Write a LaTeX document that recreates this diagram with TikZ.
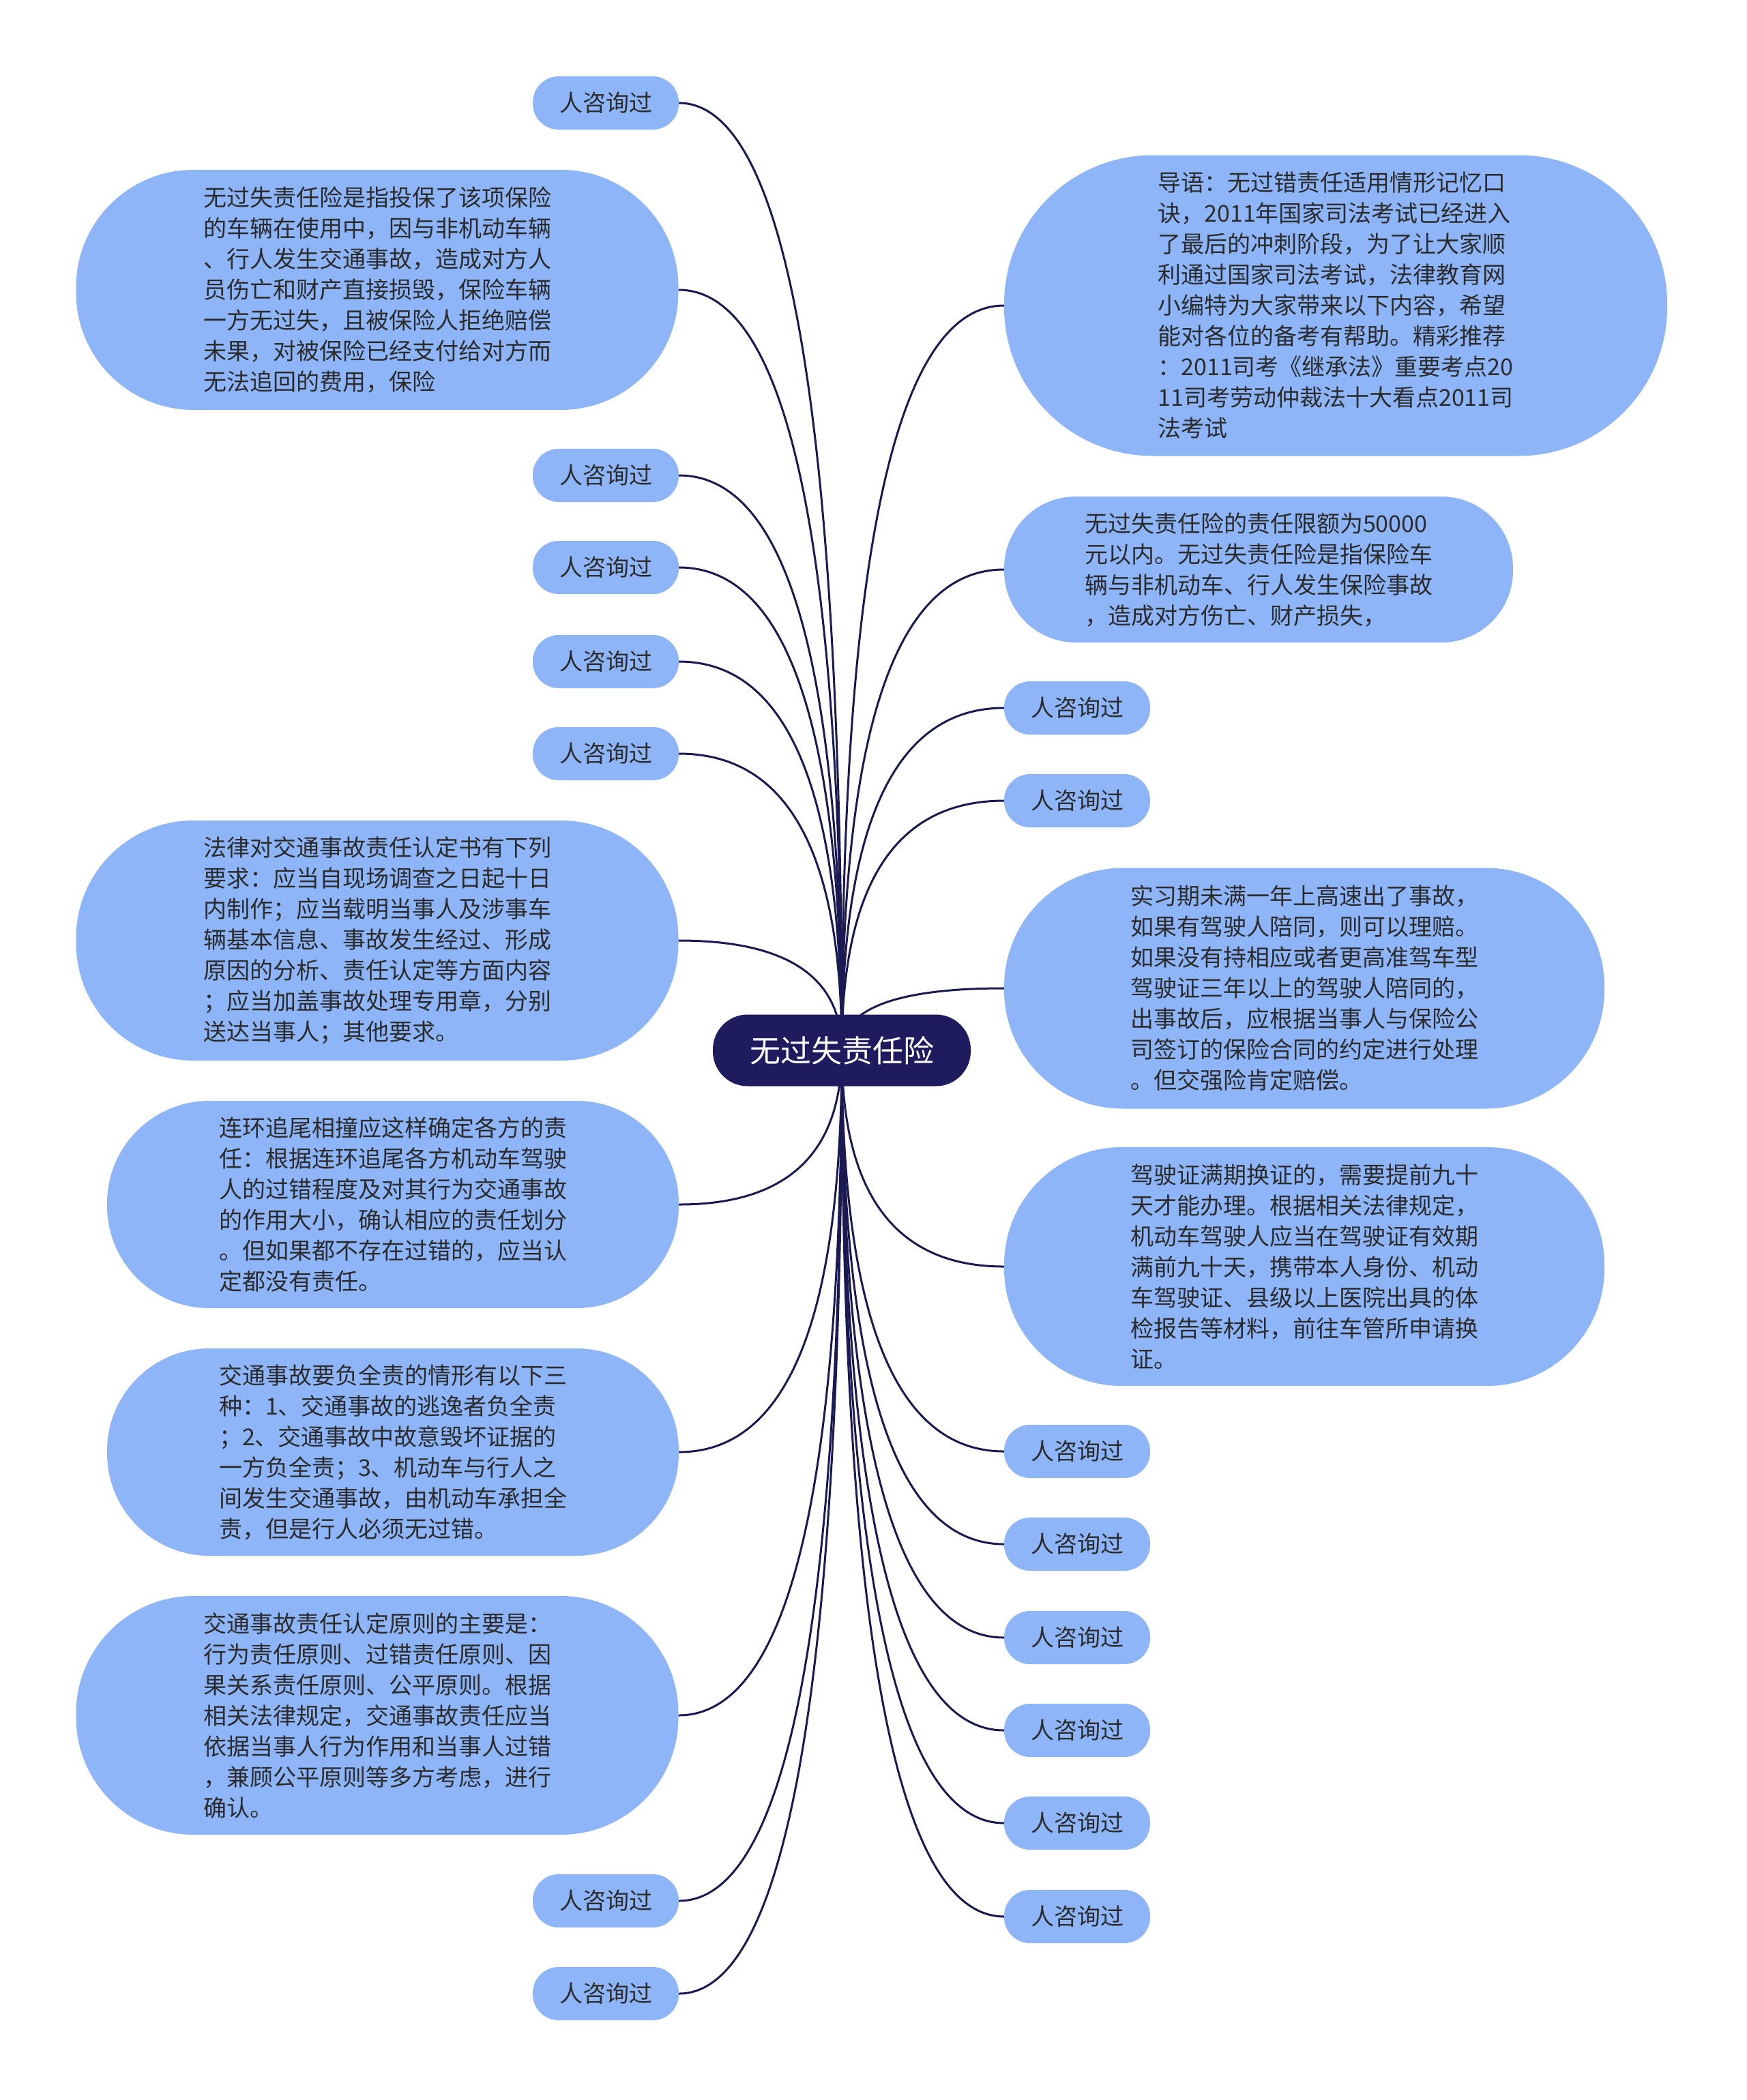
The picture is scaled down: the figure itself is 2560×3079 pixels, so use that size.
\documentclass[tikz,border=0pt]{standalone}
\usepackage{fontspec}
\setmainfont{Noto Sans CJK SC}
\usetikzlibrary{calc,backgrounds}
\definecolor{ink}{HTML}{2B2B2B}
\definecolor{navy}{HTML}{1E1B5E}
\definecolor{wire}{HTML}{1A1952}
\definecolor{bubblefill}{HTML}{8DB5F8}
\newcommand{\bodyfont}{\fontsize{34}{45}\selectfont}
\newcommand{\rootfont}{\fontsize{45}{54}\selectfont}
\tikzset{
  every node/.style={text=ink},
  bubble/.style={fill=bubblefill, rounded corners=#1, inner sep=0pt, align=left, font=\bodyfont},
  small/.style={bubble=38pt, align=center, minimum width=214pt, minimum height=78pt},
  root/.style={fill=navy, rounded corners=51pt, text=white, font=\rootfont, inner sep=0pt, minimum width=378pt, minimum height=105pt},
  link/.style={draw=wire, line width=3pt},
}

\begin{document}
\begin{tikzpicture}[x=1pt, y=-1pt]
  \useasboundingbox (0,0) rectangle (2560,3079);

  % centre
  \node[root] (root) at (1234,1540) {无过失责任险};

  % left side
  \node[bubble=172pt, minimum width=883pt, minimum height=352pt] (defn) at (553,425) {无过失责任险是指投保了该项保险\\的车辆在使用中，因与非机动车辆\\、行人发生交通事故，造成对方人\\员伤亡和财产直接损毁，保险车辆\\一方无过失，且被保险人拒绝赔偿\\未果，对被保险已经支付给对方而\\无法追回的费用，保险};
  \node[bubble=172pt, minimum width=883pt, minimum height=352pt] (report) at (553,1379) {法律对交通事故责任认定书有下列\\要求：应当自现场调查之日起十日\\内制作；应当载明当事人及涉事车\\辆基本信息、事故发生经过、形成\\原因的分析、责任认定等方面内容\\；应当加盖事故处理专用章，分别\\送达当事人；其他要求。};
  \node[bubble=150pt, minimum width=838pt, minimum height=304pt] (chain) at (576,1766) {连环追尾相撞应这样确定各方的责\\任：根据连环追尾各方机动车驾驶\\人的过错程度及对其行为交通事故\\的作用大小，确认相应的责任划分\\。但如果都不存在过错的，应当认\\定都没有责任。};
  \node[bubble=150pt, minimum width=838pt, minimum height=304pt] (fullresp) at (576,2129) {交通事故要负全责的情形有以下三\\种：1、交通事故的逃逸者负全责\\；2、交通事故中故意毁坏证据的\\一方负全责；3、机动车与行人之\\间发生交通事故，由机动车承担全\\责，但是行人必须无过错。};
  \node[bubble=172pt, minimum width=883pt, minimum height=350pt] (principle) at (553,2515) {交通事故责任认定原则的主要是：\\行为责任原则、过错责任原则、因\\果关系责任原则、公平原则。根据\\相关法律规定，交通事故责任应当\\依据当事人行为作用和当事人过错\\，兼顾公平原则等多方考虑，进行\\确认。};
  \foreach \i/\y in {1/151,2/697,3/832,4/970,5/1105,6/2787,7/2923}
    \node[small] (ask\i) at (888,\y) {人咨询过};

  % right side
  \node[bubble=218pt, minimum width=972pt, minimum height=441pt] (intro) at (1958,448) {导语：无过错责任适用情形记忆口\\诀，2011年国家司法考试已经进入\\了最后的冲刺阶段，为了让大家顺\\利通过国家司法考试，法律教育网\\小编特为大家带来以下内容，希望\\能对各位的备考有帮助。精彩推荐\\：2011司考《继承法》重要考点20\\11司考劳动仲裁法十大看点2011司\\法考试};
  \node[bubble=105pt, minimum width=746pt, minimum height=214pt] (limit) at (1845,835) {无过失责任险的责任限额为50000\\元以内。无过失责任险是指保险车\\辆与非机动车、行人发生保险事故\\，造成对方伤亡、财产损失，};
  \node[bubble=174pt, minimum width=880pt, minimum height=353pt] (intern) at (1912,1449) {实习期未满一年上高速出了事故，\\如果有驾驶人陪同，则可以理赔。\\如果没有持相应或者更高准驾车型\\驾驶证三年以上的驾驶人陪同的，\\出事故后，应根据当事人与保险公\\司签订的保险合同的约定进行处理\\。但交强险肯定赔偿。};
  \node[bubble=172pt, minimum width=880pt, minimum height=350pt] (renew) at (1912,1857) {驾驶证满期换证的，需要提前九十\\天才能办理。根据相关法律规定，\\机动车驾驶人应当在驾驶证有效期\\满前九十天，携带本人身份、机动\\车驾驶证、县级以上医院出具的体\\检报告等材料，前往车管所申请换\\证。};
  \foreach \i/\y in {8/1038,9/1174,10/2128,11/2264,12/2401,13/2537,14/2673,15/2810}
    \node[small] (ask\i) at (1579,\y) {人咨询过};

  % branches, drawn under the nodes
  \begin{scope}[on background layer]
    \foreach \nd in {ask1,defn,ask2,ask3,ask4,ask5,report,chain,fullresp,principle,ask6,ask7} {
      \coordinate (bend) at (root.center |- \nd.east);
      \draw[link] (root.center) .. controls ($(root.center)!0.667!(bend)$) and ($(\nd.east)!0.667!(bend)$) .. (\nd.east);
    }
    \foreach \nd in {intro,limit,ask8,ask9,intern,renew,ask10,ask11,ask12,ask13,ask14,ask15} {
      \coordinate (bend) at (root.center |- \nd.west);
      \draw[link] (root.center) .. controls ($(root.center)!0.667!(bend)$) and ($(\nd.west)!0.667!(bend)$) .. (\nd.west);
    }
  \end{scope}
\end{tikzpicture}
\end{document}
